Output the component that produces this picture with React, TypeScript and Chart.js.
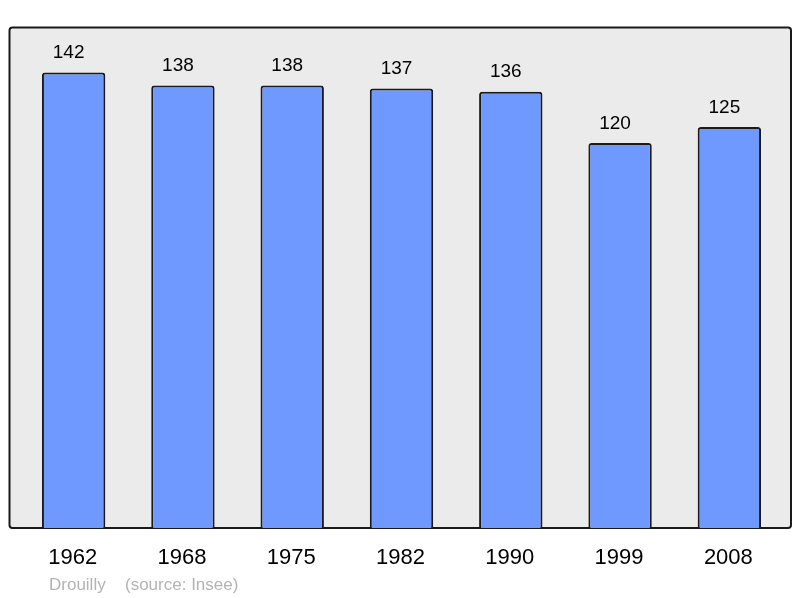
import React, { useEffect, useRef } from "react";
import { Chart, registerables } from "chart.js";

Chart.register(...registerables);

const years = ["1962", "1968", "1975", "1982", "1990", "1999", "2008"];
const population = [142, 138, 138, 137, 136, 120, 125];
const commune = "Drouilly";
const source = "(source: Insee)";

const FONT = "'Liberation Sans', Arial, sans-serif";

export default function App() {
  const ref = useRef<HTMLCanvasElement | null>(null);

  useEffect(() => {
    document.body.style.margin = "0";
    const canvas = ref.current!;
    const boxPlugin = {
      id: "boxPlugin",
      beforeDatasetsDraw(chart: any) {
        const { ctx, chartArea } = chart;
        const l = chartArea.left - 9.5;
        const r = chartArea.right + 7;
        const t = chartArea.top + 0.5;
        const b = chartArea.bottom;
        ctx.save();
        ctx.beginPath();
        ctx.roundRect(l, t, r - l, b - t, 3);
        ctx.fillStyle = "#ebebeb";
        ctx.fill();
        ctx.lineWidth = 2;
        ctx.strokeStyle = "#1a1a1a";
        ctx.stroke();
        ctx.restore();
      },
      afterDatasetsDraw(chart: any) {
        const { ctx } = chart;
        const meta = chart.getDatasetMeta(0);
        ctx.save();
        ctx.font = `19px ${FONT}`;
        ctx.fillStyle = "#000";
        ctx.textAlign = "center";
        ctx.textBaseline = "alphabetic";
        meta.data.forEach((el: any, i: number) => {
          ctx.fillText(String(population[i]), el.x - 5, el.y - 14.5);
        });
        ctx.font = `17px ${FONT}`;
        ctx.fillStyle = "#b3b3b3";
        ctx.textAlign = "left";
        ctx.fillText(commune, chart.chartArea.left + 30, 590);
        ctx.fillText(source, chart.chartArea.left + 106, 590);
        ctx.restore();
      },
    };
    const chart = new Chart(canvas, {
      type: "bar",
      data: {
        labels: years,
        datasets: [
          {
            data: population,
            backgroundColor: "#7099ff",
            borderColor: "#1a1a1a",
            borderWidth: 2,
            borderRadius: 3,
            barPercentage: 0.58,
            categoryPercentage: 1,
          },
        ],
      },
      options: {
        responsive: false,
        animation: false,
        layout: { padding: { left: 19, right: 16, top: 27, bottom: 0 } },
        plugins: {
          legend: { display: false },
          tooltip: { enabled: false },
        },
        scales: {
          x: {
            grid: { display: false, drawTicks: false },
            border: { display: false },
            ticks: {
              color: "#000",
              font: { size: 22, family: FONT },
              padding: 17,
              labelOffset: -1,
              maxRotation: 0,
            },
            afterFit: (scale: any) => {
              scale.height = 70;
            },
          },
          y: { display: false, min: 0, max: 156.2 },
        },
      },
      plugins: [boxPlugin],
    });
    return () => chart.destroy();
  }, []);

  return (
    <div style={{ position: "absolute", left: 0, top: 0, width: 800, height: 598 }}>
      <canvas ref={ref} width={800} height={598} />
    </div>
  );
}
